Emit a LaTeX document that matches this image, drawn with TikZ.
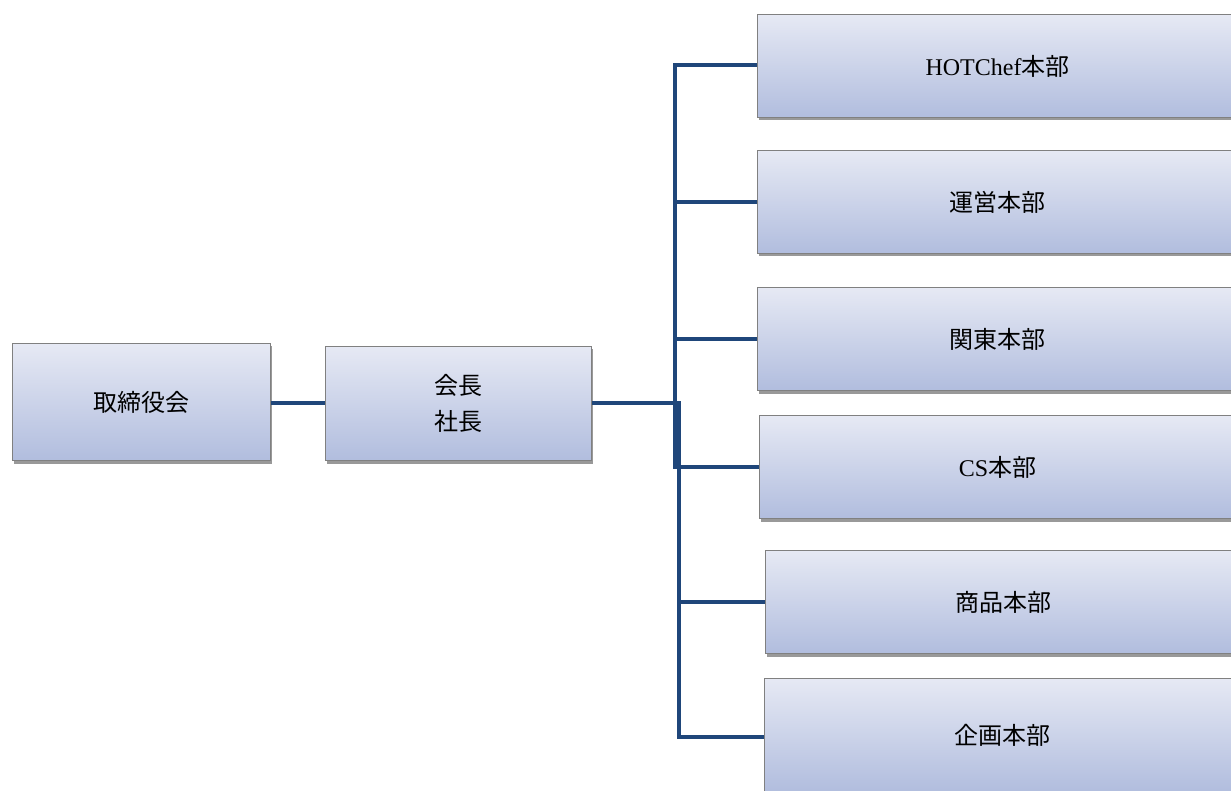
\documentclass[tikz,border=0pt]{standalone}
\usepackage{fontspec}
\setmainfont{Liberation Serif}
\newfontfamily\jp{Noto Sans CJK JP}
\usetikzlibrary{shadows}
\definecolor{linec}{HTML}{1F467A}
\definecolor{topc}{HTML}{E6E9F4}
\definecolor{botc}{HTML}{B1BDDE}
\definecolor{edgec}{HTML}{808080}
\tikzset{
  box/.style={draw=edgec, line width=1pt, top color=topc, bottom color=botc,
    anchor=north west, inner sep=0pt, align=center,
    font=\fontsize{24}{36}\selectfont,
    drop shadow={shadow xshift=1.5pt, shadow yshift=-3pt, fill=black, opacity=0.4}},
  conn/.style={draw=linec, line width=4pt, line cap=rect}
}
\begin{document}
\begin{tikzpicture}[x=1pt,y=-1pt]
\useasboundingbox (0,0) rectangle (1231,791);
\clip (0,0) rectangle (1231,791);
% left boxes
\node[box, minimum width=258pt, minimum height=117pt] (tori) at (12,343) {\jp 取締役会};
\node[box, minimum width=266pt, minimum height=114pt] (kai) at (325,346) {\jp 会長\\\jp 社長};
% right boxes
\node[box, minimum width=480pt, minimum height=103pt] (hot) at (757,14) {HOTChef{\jp 本部}};
\node[box, minimum width=480pt, minimum height=103pt] (unei) at (757,150) {\jp 運営本部};
\node[box, minimum width=480pt, minimum height=103pt] (kanto) at (757,287) {\jp 関東本部};
\node[box, minimum width=476pt, minimum height=103pt] (cs) at (759,415) {CS{\jp 本部}};
\node[box, minimum width=476pt, minimum height=103pt] (shohin) at (765,550) {\jp 商品本部};
\node[box, minimum width=476pt, minimum height=113pt] (kikaku) at (764,678) {\jp 企画本部};
% junction coordinates
\coordinate (ja) at (675,65);
\coordinate (jb) at (675,467);
\coordinate (jc) at (679,403);
\coordinate (jd) at (679,737);
% connectors
\draw[conn, line cap=butt] (tori.east |- jc) -- (kai.west |- jc);
\draw[conn, line cap=butt] (kai.east |- jc) -- (jc);
\draw[conn] (ja) -- (jb);
\draw[conn] (jc) -- (jd);
\draw[conn, line cap=butt] (ja) -- (hot.west |- ja);
\draw[conn, line cap=butt] (ja |- unei.west) -- (unei.west);
\draw[conn, line cap=butt] (ja |- kanto.west) -- (kanto.west);
\draw[conn, line cap=butt] (jb) -- (cs.west |- jb);
\draw[conn, line cap=butt] (jc |- shohin.west) -- (shohin.west);
\draw[conn, line cap=butt] (jd) -- (kikaku.west |- jd);
\end{tikzpicture}
\end{document}
